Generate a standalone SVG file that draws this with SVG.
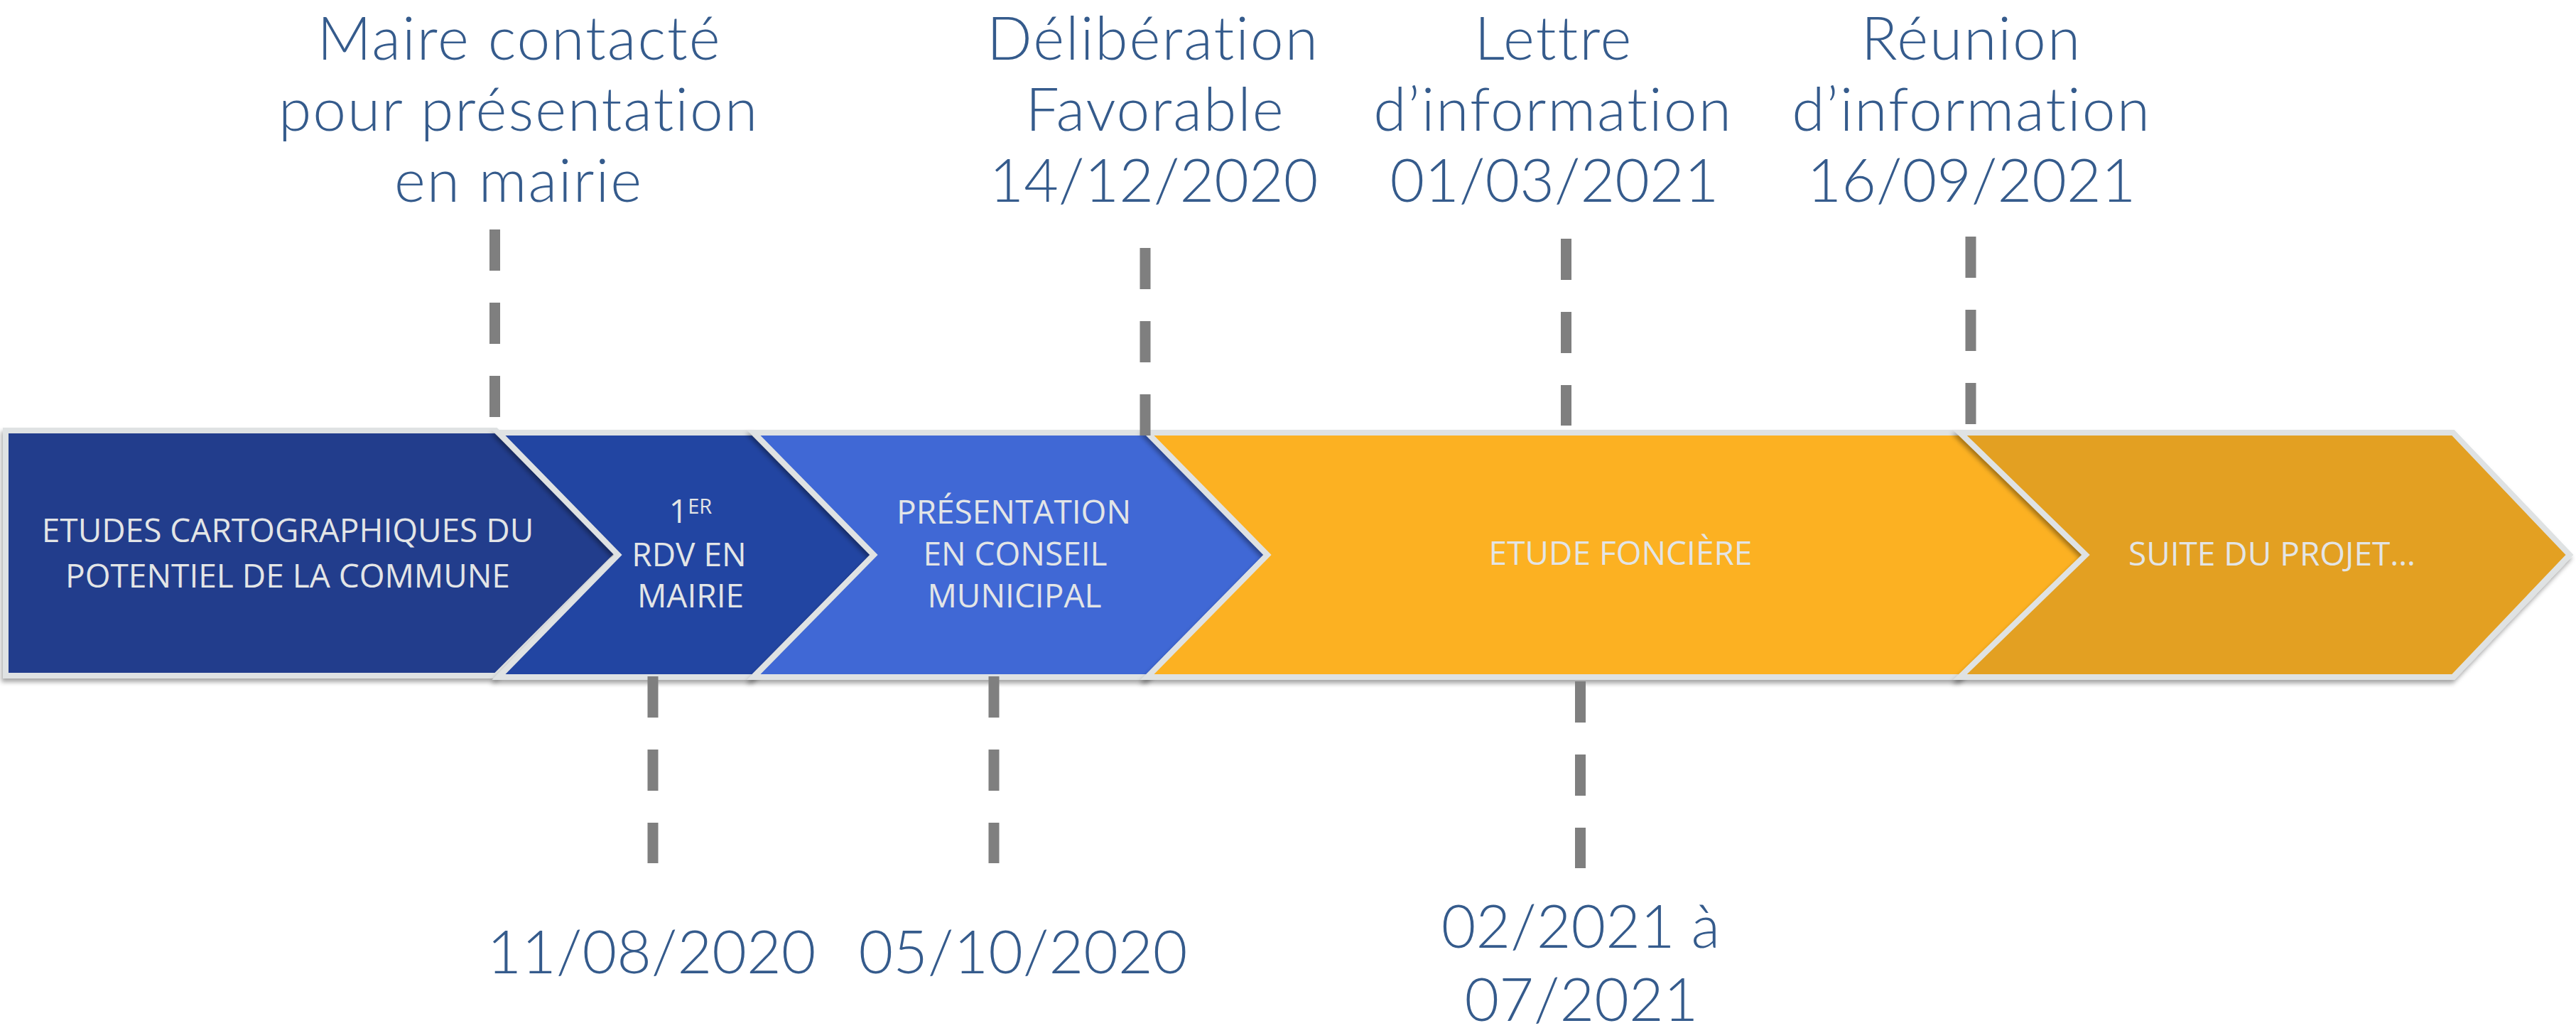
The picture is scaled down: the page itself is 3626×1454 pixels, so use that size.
<svg xmlns="http://www.w3.org/2000/svg" width="3626" height="1454" viewBox="0 0 3626 1454">
<defs>
<filter id="sh" x="-5%" y="-10%" width="110%" height="125%">
<feDropShadow dx="-2" dy="5" stdDeviation="3" flood-color="#000" flood-opacity="0.35"/>
</filter>
<style>
.s{stroke:#dfe2e3;stroke-width:8;stroke-linejoin:miter;filter:url(#sh)}
.in{font-family:"Open Sans","Liberation Sans",sans-serif;font-weight:400;font-size:46px;fill:#e3e5e6;text-anchor:middle}
.out{font-family:Lato,"Open Sans","Liberation Sans",sans-serif;font-weight:300;font-size:84px;fill:#355b8c;text-anchor:middle;font-variant-ligatures:none}
.w{letter-spacing:2px}
.d{stroke:#7f7f7f;stroke-width:15;stroke-dasharray:58 45;fill:none}
</style>
</defs>
<rect width="3626" height="1454" fill="#ffffff"/>
<g id="n1">
<polygon class="s" fill="#213d8c" points="8,606 698,606 870,779 698,951 8,951"/>
<text class="in" x="405" y="763">ETUDES CARTOGRAPHIQUES DU</text>
<text class="in" x="405" y="827">POTENTIEL DE LA COMMUNE</text>
</g>
<g id="n2">
<polygon class="s" fill="#2345a2" points="702,609 1060,609 1230,781 1060,953 702,953 870,781"/>
<text class="in" x="972" y="736">1<tspan dy="-13" font-size="29">ER</tspan></text>
<text class="in" x="970" y="797">RDV EN</text>
<text class="in" x="972" y="855">MAIRIE</text>
</g>
<g id="n3">
<polygon class="s" fill="#3f67d5" points="1061,609 1615,609 1784,781 1615,953 1061,953 1230,781"/>
<text class="in" x="1427" y="737">PRÉSENTATION</text>
<text class="in" x="1429" y="796">EN CONSEIL</text>
<text class="in" x="1428" y="855">MUNICIPAL</text>
</g>
<g id="n4">
<polygon class="s" fill="#fcb121" points="1615,609 2759,609 2936,781 2759,953 1615,953 1784,781"/>
<text class="in" x="2281" y="795">ETUDE FONCIÈRE</text>
</g>
<g id="n5">
<polygon class="s" fill="#e3a020" points="2759,609 3453,609 3617,781 3453,953 2759,953 2936,781"/>
<text class="in" x="3198" y="796">SUITE DU PROJET…</text>
</g>
<g id="connectors">
<line class="d" x1="696.5" y1="323" x2="696.5" y2="587"/>
<line class="d" x1="1612" y1="349" x2="1612" y2="613"/>
<line class="d" x1="2204.5" y1="336" x2="2204.5" y2="599"/>
<line class="d" x1="2774" y1="333" x2="2774" y2="597"/>
<line class="d" x1="919" y1="952" x2="919" y2="1215"/>
<line class="d" x1="1399" y1="952" x2="1399" y2="1215"/>
<line class="d" x1="2224.5" y1="959" x2="2224.5" y2="1222"/>
</g>
<g id="labels">
<text class="out w" x="731" y="84">Maire contacté</text>
<text class="out w" x="730" y="184">pour présentation</text>
<text class="out w" x="730" y="284">en mairie</text>
<text class="out w" x="1623" y="84">Délibération</text>
<text class="out w" x="1626" y="184">Favorable</text>
<text class="out" x="1624" y="284">14/12/2020</text>
<text class="out w" x="2187" y="84">Lettre</text>
<text class="out w" x="2186" y="184">d’information</text>
<text class="out" x="2188" y="284">01/03/2021</text>
<text class="out w" x="2775" y="84">Réunion</text>
<text class="out w" x="2775" y="184">d’information</text>
<text class="out" x="2775" y="284">16/09/2021</text>
<text class="out" x="917" y="1370">11/08/2020</text>
<text class="out" x="1440" y="1370">05/10/2020</text>
<text class="out" x="2225" y="1334">02/2021 à</text>
<text class="out" x="2226" y="1437">07/2021</text>
</g>
</svg>
